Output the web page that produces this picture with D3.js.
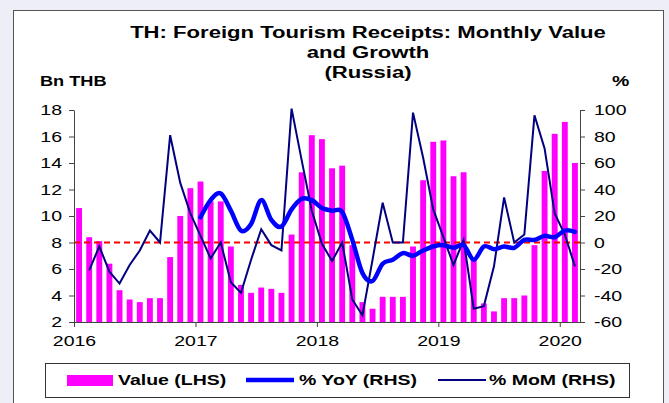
<!DOCTYPE html>
<html>
<head>
<meta charset="utf-8">
<script src="https://cdn.jsdelivr.net/npm/d3@7"></script>
<style>
  body { margin: 0; background: #eeeef6; }
  svg { display: block; font-family: "Liberation Sans", Arial, sans-serif; }
  .axis path, .axis line { stroke: #444; }
  .axis text { fill: #000; font-size: 15px; }
</style>
</head>
<body>
<div id="chart"></div>
<script>
// ==== Data ====
const yearLabels = ["2016", "2017", "2018", "2019", "2020"];
const months = d3.timeMonths(new Date(2016, 0, 1), new Date(2020, 2, 1)); // Jan 2016 .. Feb 2020

// Value (Bn THB), Jan 2016 .. Feb 2020
const valueLHS = [
  10.6, 8.4, 8.1, 6.4, 4.4, 3.7, 3.5, 3.8, 3.8, 6.9, 10.0, 12.1,
  12.6, 11.1, 11.1, 7.7, 4.8, 4.2, 4.6, 4.5, 4.2, 8.6, 13.3, 16.1,
  15.8, 13.6, 13.8, 7.8, 3.5, 3.0, 3.9, 3.9, 3.9, 7.7, 12.7, 15.6,
  15.7, 13.0, 13.3, 6.7, 3.4, 2.8, 3.8, 3.8, 4.0, 7.8, 13.4, 16.2,
  17.1, 14.0
];
// % YoY, Jan 2017 .. Feb 2020
const yoy = [
  19, 32, 37, 24, 9, 14, 32, 17, 12, 25, 33, 32,
  26, 24, 23, 2, -23, -29, -16, -13, -8, -10, -6, -3,
  -2, -4, -2, -13, -3, -5, -3, -4, 2, 2, 5, 4,
  9, 8
];
// % MoM, Feb 2016 .. Feb 2020
const mom = [
  -21, -3, -22, -31, -17, -6, 9, 0, 81, 45, 22,
  5, -12, 0, -30, -38, -13, 10, -2, -6, 101, 62, 24,
  -1, -14, 0, -43, -55, -13, 30, 0, 0, 98, 64, 25,
  4, -17, 2, -50, -48, -18, 34, 0, 6, 96, 71, 22,
  6, -18
];
const leftTicks = [2, 4, 6, 8, 10, 12, 14, 16, 18];
const rightTicks = [-60, -40, -20, 0, 20, 40, 60, 80, 100];

// ==== Setup ====
const W = 669, H = 403;
const plot = { left: 74, right: 580, top: 110, bottom: 322 };
const stretch = 1.3; // text in the original is drawn wide

const svg = d3.select("#chart")
  .append("svg")
  .attr("width", W)
  .attr("height", H);

// frame
svg.append("rect")
  .attr("x", 13.5).attr("y", 10.5)
  .attr("width", 650).attr("height", 420)
  .attr("fill", "#fff")
  .attr("stroke", "#555");

// ==== Scales ====
const xScale = d3.scaleLinear()
  .domain([0, months.length])
  .range([plot.left, plot.right]);
const step = xScale(1) - xScale(0);

const yLeft = d3.scaleLinear()
  .domain([2, 18])
  .range([plot.bottom, plot.top]);

const yRight = d3.scaleLinear()
  .domain([-60, 100])
  .range([plot.bottom, plot.top]);

// ==== Bars ====
const barW = step * 0.58;
svg.append("g")
  .selectAll("rect")
  .data(valueLHS)
  .join("rect")
  .attr("x", (d, i) => xScale(i + 0.5) - barW / 2)
  .attr("y", d => yLeft(d))
  .attr("width", barW)
  .attr("height", d => yLeft(2) - yLeft(d))
  .attr("fill", "#ff00ff");

// zero line
svg.append("line")
  .attr("x1", plot.left).attr("x2", plot.right)
  .attr("y1", yRight(0)).attr("y2", yRight(0))
  .attr("stroke", "#ff0000")
  .attr("stroke-width", 2)
  .attr("stroke-dasharray", "6,4");

// ==== Lines ====
const momLine = d3.line()
  .x((d, i) => xScale(i + 1.5))
  .y(d => yRight(d));

svg.append("path")
  .datum(mom)
  .attr("fill", "none")
  .attr("stroke", "#000080")
  .attr("stroke-width", 2)
  .attr("d", momLine);

const yoyLine = d3.line()
  .x((d, i) => xScale(i + 12.5))
  .y(d => yRight(d))
  .curve(d3.curveCardinal.tension(0));

svg.append("path")
  .datum(yoy)
  .attr("fill", "none")
  .attr("stroke", "#0000ff")
  .attr("stroke-width", 4.5)
  .attr("stroke-linecap", "round")
  .attr("d", yoyLine);

// ==== Axes ====
const xAxis = d3.axisBottom(xScale)
  .tickValues([0, 12, 24, 36, 48])
  .tickFormat((d, i) => yearLabels[i])
  .tickSize(5)
  .tickPadding(8)
  .tickSizeOuter(0);

const yAxisL = d3.axisLeft(yLeft)
  .tickValues(leftTicks)
  .tickFormat(d => String(d))
  .tickSize(5)
  .tickPadding(7)
  .tickSizeOuter(0);

const yAxisR = d3.axisRight(yRight)
  .tickValues(rightTicks)
  .tickFormat(d => String(d))
  .tickSize(5)
  .tickPadding(9)
  .tickSizeOuter(0);

svg.append("g")
  .attr("class", "axis x-axis")
  .attr("transform", `translate(0,${plot.bottom})`)
  .call(xAxis);

svg.append("g")
  .attr("class", "axis y-axis")
  .attr("transform", `translate(${plot.left},0)`)
  .call(yAxisL);

svg.append("g")
  .attr("class", "axis y-axis")
  .attr("transform", `translate(${plot.right},0)`)
  .call(yAxisR);

// ==== Titles ====
const title = ["TH: Foreign Tourism Receipts: Monthly Value", "and Growth", "(Russia)"];
svg.append("g")
  .selectAll("text")
  .data(title)
  .join("text")
  .attr("x", 368)
  .attr("y", (d, i) => 38 + i * 20)
  .attr("text-anchor", "middle")
  .attr("font-size", 17)
  .attr("font-weight", "bold")
  .text(d => d);

svg.append("text")
  .attr("x", 40).attr("y", 86)
  .attr("font-size", 14).attr("font-weight", "bold")
  .text("Bn THB");

svg.append("text")
  .attr("x", 612).attr("y", 86)
  .attr("font-size", 15).attr("font-weight", "bold")
  .text("%");

// ==== Legend ====
const legend = svg.append("g");
legend.append("rect")
  .attr("x", 45.5).attr("y", 363.5)
  .attr("width", 584).attr("height", 34)
  .attr("fill", "#fff")
  .attr("stroke", "#333");

const legendItems = [
  { label: "Value (LHS)", type: "bar", x: 67, tx: 118 },
  { label: "% YoY (RHS)", type: "yoy", x: 246, tx: 299 },
  { label: "% MoM (RHS)", type: "mom", x: 438, tx: 489 }
];
const ly = 380;
legendItems.forEach(it => {
  if (it.type === "bar") {
    legend.append("rect")
      .attr("x", it.x).attr("y", ly - 5)
      .attr("width", 46).attr("height", 11)
      .attr("fill", "#ff00ff");
  } else {
    legend.append("line")
      .attr("x1", it.x).attr("x2", it.x + 48)
      .attr("y1", ly).attr("y2", ly)
      .attr("stroke", it.type === "yoy" ? "#0000ff" : "#000080")
      .attr("stroke-width", it.type === "yoy" ? 4.5 : 2);
  }
  legend.append("text")
    .attr("x", it.tx).attr("y", ly + 5)
    .attr("font-size", 15).attr("font-weight", "bold")
    .text(it.label);
});

// widen every label around its anchor point
svg.selectAll("text").each(function () {
  const t = d3.select(this);
  const x = +(t.attr("x") || 0);
  t.attr("transform", `translate(${x * (1 - stretch)},0) scale(${stretch},1)`);
});
</script>
</body>
</html>
